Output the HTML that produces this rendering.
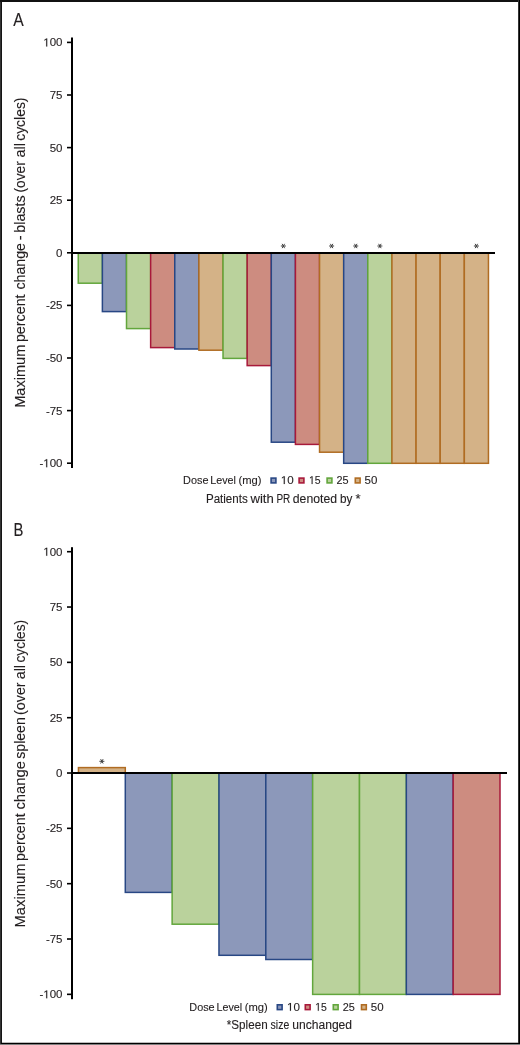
<!DOCTYPE html>
<html><head><meta charset="utf-8"><title>Figure</title>
<style>html,body{margin:0;padding:0;background:#fff;width:520px;height:1045px;overflow:hidden}
svg{display:block;will-change:transform}
svg text{font-family:"Liberation Sans", sans-serif;stroke:#231f20;stroke-width:0.12px}</style></head>
<body>
<svg width="520" height="1045" viewBox="0 0 520 1045">
<rect x="0" y="0" width="520" height="1045" fill="#fff"/>
<text x="13.17" y="25.80" font-size="17.6" text-anchor="start" fill="#231f20" textLength="10.46" lengthAdjust="spacingAndGlyphs">A</text>
<rect x="71" y="37.5" width="2" height="430.5" fill="#000"/>
<rect x="67" y="41.60" width="4" height="1.6" fill="#000"/>
<polygon points="46.20,46.40 46.20,39.45 44.42,40.73 44.42,39.77 46.29,38.49 47.22,38.49 47.22,46.40" fill="#231f20" stroke="#231f20" stroke-width="0.12"/>
<text x="62.50" y="46.40" font-size="11.5" text-anchor="end" fill="#231f20"> 00</text>
<rect x="67" y="94.20" width="4" height="1.6" fill="#000"/>
<text x="62.50" y="99.00" font-size="11.5" text-anchor="end" fill="#231f20">75</text>
<rect x="67" y="146.80" width="4" height="1.6" fill="#000"/>
<text x="62.50" y="151.60" font-size="11.5" text-anchor="end" fill="#231f20">50</text>
<rect x="67" y="199.40" width="4" height="1.6" fill="#000"/>
<text x="62.50" y="204.20" font-size="11.5" text-anchor="end" fill="#231f20">25</text>
<rect x="67" y="252.00" width="4" height="1.6" fill="#000"/>
<text x="62.50" y="256.80" font-size="11.5" text-anchor="end" fill="#231f20">0</text>
<rect x="67" y="304.60" width="4" height="1.6" fill="#000"/>
<text x="62.50" y="309.40" font-size="11.5" text-anchor="end" fill="#231f20">-25</text>
<rect x="67" y="357.20" width="4" height="1.6" fill="#000"/>
<text x="62.50" y="362.00" font-size="11.5" text-anchor="end" fill="#231f20">-50</text>
<rect x="67" y="409.80" width="4" height="1.6" fill="#000"/>
<text x="62.50" y="414.60" font-size="11.5" text-anchor="end" fill="#231f20">-75</text>
<rect x="67" y="462.40" width="4" height="1.6" fill="#000"/>
<polygon points="46.20,467.20 46.20,460.25 44.42,461.53 44.42,460.57 46.29,459.29 47.22,459.29 47.22,467.20" fill="#231f20" stroke="#231f20" stroke-width="0.12"/>
<text x="62.50" y="467.20" font-size="11.5" text-anchor="end" fill="#231f20">- 00</text>
<rect x="78.25" y="253.00" width="24.13" height="30.20" fill="#bad29c" stroke="#62a63c" stroke-width="1.5"/>
<rect x="102.38" y="253.00" width="24.13" height="58.60" fill="#8c98ba" stroke="#284784" stroke-width="1.5"/>
<rect x="126.51" y="253.00" width="24.13" height="75.60" fill="#bad29c" stroke="#62a63c" stroke-width="1.5"/>
<rect x="150.64" y="253.00" width="24.13" height="94.60" fill="#cd8c80" stroke="#a8193a" stroke-width="1.5"/>
<rect x="174.77" y="253.00" width="24.13" height="96.00" fill="#8c98ba" stroke="#284784" stroke-width="1.5"/>
<rect x="198.90" y="253.00" width="24.13" height="97.20" fill="#d4b287" stroke="#b06c22" stroke-width="1.5"/>
<rect x="223.03" y="253.00" width="24.13" height="105.40" fill="#bad29c" stroke="#62a63c" stroke-width="1.5"/>
<rect x="247.16" y="253.00" width="24.13" height="112.60" fill="#cd8c80" stroke="#a8193a" stroke-width="1.5"/>
<rect x="271.29" y="253.00" width="24.13" height="189.20" fill="#8c98ba" stroke="#284784" stroke-width="1.5"/>
<rect x="295.42" y="253.00" width="24.13" height="191.40" fill="#cd8c80" stroke="#a8193a" stroke-width="1.5"/>
<rect x="319.55" y="253.00" width="24.13" height="199.20" fill="#d4b287" stroke="#b06c22" stroke-width="1.5"/>
<rect x="343.68" y="253.00" width="24.13" height="210.30" fill="#8c98ba" stroke="#284784" stroke-width="1.5"/>
<rect x="367.81" y="253.00" width="24.13" height="210.30" fill="#bad29c" stroke="#62a63c" stroke-width="1.5"/>
<rect x="391.94" y="253.00" width="24.13" height="210.30" fill="#d4b287" stroke="#b06c22" stroke-width="1.5"/>
<rect x="416.07" y="253.00" width="24.13" height="210.30" fill="#d4b287" stroke="#b06c22" stroke-width="1.5"/>
<rect x="440.20" y="253.00" width="24.13" height="210.30" fill="#d4b287" stroke="#b06c22" stroke-width="1.5"/>
<rect x="464.33" y="253.00" width="24.13" height="210.30" fill="#d4b287" stroke="#b06c22" stroke-width="1.5"/>
<rect x="71" y="252.00" width="424" height="2" fill="#000"/>
<line x1="280.86" y1="246.00" x2="285.86" y2="246.00" stroke="#3a3a3a" stroke-width="0.95"/>
<line x1="282.11" y1="243.83" x2="284.61" y2="248.17" stroke="#3a3a3a" stroke-width="0.95"/>
<line x1="284.61" y1="243.83" x2="282.11" y2="248.17" stroke="#3a3a3a" stroke-width="0.95"/>
<line x1="329.12" y1="246.00" x2="334.12" y2="246.00" stroke="#3a3a3a" stroke-width="0.95"/>
<line x1="330.37" y1="243.83" x2="332.87" y2="248.17" stroke="#3a3a3a" stroke-width="0.95"/>
<line x1="332.87" y1="243.83" x2="330.37" y2="248.17" stroke="#3a3a3a" stroke-width="0.95"/>
<line x1="353.25" y1="246.00" x2="358.25" y2="246.00" stroke="#3a3a3a" stroke-width="0.95"/>
<line x1="354.50" y1="243.83" x2="357.00" y2="248.17" stroke="#3a3a3a" stroke-width="0.95"/>
<line x1="357.00" y1="243.83" x2="354.50" y2="248.17" stroke="#3a3a3a" stroke-width="0.95"/>
<line x1="377.38" y1="246.00" x2="382.38" y2="246.00" stroke="#3a3a3a" stroke-width="0.95"/>
<line x1="378.62" y1="243.83" x2="381.12" y2="248.17" stroke="#3a3a3a" stroke-width="0.95"/>
<line x1="381.12" y1="243.83" x2="378.62" y2="248.17" stroke="#3a3a3a" stroke-width="0.95"/>
<line x1="473.89" y1="246.00" x2="478.89" y2="246.00" stroke="#3a3a3a" stroke-width="0.95"/>
<line x1="475.14" y1="243.83" x2="477.64" y2="248.17" stroke="#3a3a3a" stroke-width="0.95"/>
<line x1="477.64" y1="243.83" x2="475.14" y2="248.17" stroke="#3a3a3a" stroke-width="0.95"/>
<text transform="translate(25,407.79) rotate(-90)" x="0" y="0" font-size="15" fill="#231f20" stroke="none" textLength="63.05" lengthAdjust="spacingAndGlyphs">Maximum</text>
<text transform="translate(25,342.12) rotate(-90)" x="0" y="0" font-size="15" fill="#231f20" stroke="none" textLength="47.73" lengthAdjust="spacingAndGlyphs">percent</text>
<text transform="translate(25,289.50) rotate(-90)" x="0" y="0" font-size="15" fill="#231f20" stroke="none" textLength="46.43" lengthAdjust="spacingAndGlyphs">change</text>
<text transform="translate(25,240.14) rotate(-90)" x="0" y="0" font-size="15" fill="#231f20" stroke="none" textLength="4.77" lengthAdjust="spacingAndGlyphs">-</text>
<text transform="translate(25,232.72) rotate(-90)" x="0" y="0" font-size="15" fill="#231f20" stroke="none" textLength="37.34" lengthAdjust="spacingAndGlyphs">blasts</text>
<text transform="translate(25,192.55) rotate(-90)" x="0" y="0" font-size="15" fill="#231f20" stroke="none" textLength="31.28" lengthAdjust="spacingAndGlyphs">(over</text>
<text transform="translate(25,157.41) rotate(-90)" x="0" y="0" font-size="15" fill="#231f20" stroke="none" textLength="14.37" lengthAdjust="spacingAndGlyphs">all</text>
<text transform="translate(25,140.79) rotate(-90)" x="0" y="0" font-size="15" fill="#231f20" stroke="none" textLength="43.25" lengthAdjust="spacingAndGlyphs">cycles)</text>
<text x="183.11" y="484.10" font-size="11.5" text-anchor="start" fill="#231f20" textLength="25.37" lengthAdjust="spacingAndGlyphs">Dose</text>
<text x="210.32" y="484.10" font-size="11.5" text-anchor="start" fill="#231f20" textLength="25.59" lengthAdjust="spacingAndGlyphs">Level</text>
<text x="238.51" y="484.10" font-size="11.5" text-anchor="start" fill="#231f20" textLength="22.99" lengthAdjust="spacingAndGlyphs">(mg)</text>
<rect x="271.10" y="478.10" width="4.80" height="4.80" fill="#8c98ba" stroke="#284784" stroke-width="1.6"/>
<polygon points="283.74,484.10 283.74,477.27 281.93,478.53 281.93,477.59 283.82,476.33 284.77,476.33 284.77,484.10" fill="#231f20" stroke="#231f20" stroke-width="0.12"/>
<text x="280.81" y="484.10" font-size="11.3" text-anchor="start" fill="#231f20" textLength="12.94" lengthAdjust="spacingAndGlyphs"> 0</text>
<rect x="299.10" y="478.10" width="4.80" height="4.80" fill="#cd8c80" stroke="#a8193a" stroke-width="1.6"/>
<polygon points="311.63,484.10 311.63,477.27 310.01,478.53 310.01,477.59 311.71,476.33 312.56,476.33 312.56,484.10" fill="#231f20" stroke="#231f20" stroke-width="0.12"/>
<text x="309.00" y="484.10" font-size="11.3" text-anchor="start" fill="#231f20" textLength="11.64" lengthAdjust="spacingAndGlyphs"> 5</text>
<rect x="327.10" y="478.10" width="4.80" height="4.80" fill="#bad29c" stroke="#62a63c" stroke-width="1.6"/>
<text x="336.55" y="484.10" font-size="11.3" text-anchor="start" fill="#231f20" textLength="12.10" lengthAdjust="spacingAndGlyphs">25</text>
<rect x="355.30" y="478.10" width="4.80" height="4.80" fill="#d4b287" stroke="#b06c22" stroke-width="1.6"/>
<text x="364.64" y="484.10" font-size="11.3" text-anchor="start" fill="#231f20" textLength="12.81" lengthAdjust="spacingAndGlyphs">50</text>
<text x="205.95" y="502.60" font-size="12.3" text-anchor="start" fill="#231f20" textLength="41.77" lengthAdjust="spacingAndGlyphs">Patients</text>
<text x="250.42" y="502.60" font-size="12.3" text-anchor="start" fill="#231f20" textLength="23.33" lengthAdjust="spacingAndGlyphs">with</text>
<text x="276.38" y="502.60" font-size="12.3" text-anchor="start" fill="#231f20" textLength="13.88" lengthAdjust="spacingAndGlyphs">PR</text>
<text x="292.79" y="502.60" font-size="12.3" text-anchor="start" fill="#231f20" textLength="44.20" lengthAdjust="spacingAndGlyphs">denoted</text>
<text x="340.04" y="502.60" font-size="12.3" text-anchor="start" fill="#231f20" textLength="12.38" lengthAdjust="spacingAndGlyphs">by</text>
<text x="355.59" y="502.60" font-size="12.3" text-anchor="start" fill="#231f20" textLength="5.12" lengthAdjust="spacingAndGlyphs">*</text>
<text x="13.58" y="535.80" font-size="17.6" text-anchor="start" fill="#231f20" textLength="9.90" lengthAdjust="spacingAndGlyphs">B</text>
<rect x="71" y="547.2" width="2" height="452.0" fill="#000"/>
<rect x="67" y="550.90" width="4" height="1.6" fill="#000"/>
<polygon points="46.20,555.70 46.20,548.75 44.42,550.03 44.42,549.07 46.29,547.79 47.22,547.79 47.22,555.70" fill="#231f20" stroke="#231f20" stroke-width="0.12"/>
<text x="62.50" y="555.70" font-size="11.5" text-anchor="end" fill="#231f20"> 00</text>
<rect x="67" y="606.23" width="4" height="1.6" fill="#000"/>
<text x="62.50" y="611.03" font-size="11.5" text-anchor="end" fill="#231f20">75</text>
<rect x="67" y="661.56" width="4" height="1.6" fill="#000"/>
<text x="62.50" y="666.36" font-size="11.5" text-anchor="end" fill="#231f20">50</text>
<rect x="67" y="716.89" width="4" height="1.6" fill="#000"/>
<text x="62.50" y="721.69" font-size="11.5" text-anchor="end" fill="#231f20">25</text>
<rect x="67" y="772.22" width="4" height="1.6" fill="#000"/>
<text x="62.50" y="777.02" font-size="11.5" text-anchor="end" fill="#231f20">0</text>
<rect x="67" y="827.55" width="4" height="1.6" fill="#000"/>
<text x="62.50" y="832.35" font-size="11.5" text-anchor="end" fill="#231f20">-25</text>
<rect x="67" y="882.88" width="4" height="1.6" fill="#000"/>
<text x="62.50" y="887.68" font-size="11.5" text-anchor="end" fill="#231f20">-50</text>
<rect x="67" y="938.21" width="4" height="1.6" fill="#000"/>
<text x="62.50" y="943.01" font-size="11.5" text-anchor="end" fill="#231f20">-75</text>
<rect x="67" y="993.54" width="4" height="1.6" fill="#000"/>
<polygon points="46.20,998.34 46.20,991.39 44.42,992.67 44.42,991.71 46.29,990.43 47.22,990.43 47.22,998.34" fill="#231f20" stroke="#231f20" stroke-width="0.12"/>
<text x="62.50" y="998.34" font-size="11.5" text-anchor="end" fill="#231f20">- 00</text>
<rect x="78.45" y="767.60" width="46.84" height="5.40" fill="#d4b287" stroke="#b06c22" stroke-width="1.5"/>
<rect x="125.29" y="773.00" width="46.84" height="119.40" fill="#8c98ba" stroke="#284784" stroke-width="1.5"/>
<rect x="172.13" y="773.00" width="46.84" height="151.20" fill="#bad29c" stroke="#62a63c" stroke-width="1.5"/>
<rect x="218.97" y="773.00" width="46.84" height="182.30" fill="#8c98ba" stroke="#284784" stroke-width="1.5"/>
<rect x="265.81" y="773.00" width="46.84" height="186.50" fill="#8c98ba" stroke="#284784" stroke-width="1.5"/>
<rect x="312.65" y="773.00" width="46.84" height="221.40" fill="#bad29c" stroke="#62a63c" stroke-width="1.5"/>
<rect x="359.49" y="773.00" width="46.84" height="221.40" fill="#bad29c" stroke="#62a63c" stroke-width="1.5"/>
<rect x="406.33" y="773.00" width="46.84" height="221.40" fill="#8c98ba" stroke="#284784" stroke-width="1.5"/>
<rect x="453.17" y="773.00" width="46.84" height="221.40" fill="#cd8c80" stroke="#a8193a" stroke-width="1.5"/>
<rect x="71" y="772.00" width="436" height="2" fill="#000"/>
<line x1="99.37" y1="761.30" x2="104.37" y2="761.30" stroke="#3a3a3a" stroke-width="0.95"/>
<line x1="100.62" y1="759.13" x2="103.12" y2="763.47" stroke="#3a3a3a" stroke-width="0.95"/>
<line x1="103.12" y1="759.13" x2="100.62" y2="763.47" stroke="#3a3a3a" stroke-width="0.95"/>
<text transform="translate(25,927.41) rotate(-90)" x="0" y="0" font-size="15" fill="#231f20" stroke="none" textLength="63.88" lengthAdjust="spacingAndGlyphs">Maximum</text>
<text transform="translate(25,860.92) rotate(-90)" x="0" y="0" font-size="15" fill="#231f20" stroke="none" textLength="47.62" lengthAdjust="spacingAndGlyphs">percent</text>
<text transform="translate(25,809.53) rotate(-90)" x="0" y="0" font-size="15" fill="#231f20" stroke="none" textLength="48.38" lengthAdjust="spacingAndGlyphs">change</text>
<text transform="translate(25,758.69) rotate(-90)" x="0" y="0" font-size="15" fill="#231f20" stroke="none" textLength="41.40" lengthAdjust="spacingAndGlyphs">spleen</text>
<text transform="translate(25,714.89) rotate(-90)" x="0" y="0" font-size="15" fill="#231f20" stroke="none" textLength="32.52" lengthAdjust="spacingAndGlyphs">(over</text>
<text transform="translate(25,679.31) rotate(-90)" x="0" y="0" font-size="15" fill="#231f20" stroke="none" textLength="14.37" lengthAdjust="spacingAndGlyphs">all</text>
<text transform="translate(25,662.58) rotate(-90)" x="0" y="0" font-size="15" fill="#231f20" stroke="none" textLength="42.74" lengthAdjust="spacingAndGlyphs">cycles)</text>
<text x="189.31" y="1010.80" font-size="11.5" text-anchor="start" fill="#231f20" textLength="25.37" lengthAdjust="spacingAndGlyphs">Dose</text>
<text x="216.52" y="1010.80" font-size="11.5" text-anchor="start" fill="#231f20" textLength="25.59" lengthAdjust="spacingAndGlyphs">Level</text>
<text x="244.71" y="1010.80" font-size="11.5" text-anchor="start" fill="#231f20" textLength="22.99" lengthAdjust="spacingAndGlyphs">(mg)</text>
<rect x="277.30" y="1004.80" width="4.80" height="4.80" fill="#8c98ba" stroke="#284784" stroke-width="1.6"/>
<polygon points="289.94,1010.80 289.94,1003.97 288.13,1005.23 288.13,1004.29 290.02,1003.03 290.97,1003.03 290.97,1010.80" fill="#231f20" stroke="#231f20" stroke-width="0.12"/>
<text x="287.01" y="1010.80" font-size="11.3" text-anchor="start" fill="#231f20" textLength="12.94" lengthAdjust="spacingAndGlyphs"> 0</text>
<rect x="305.30" y="1004.80" width="4.80" height="4.80" fill="#cd8c80" stroke="#a8193a" stroke-width="1.6"/>
<polygon points="317.83,1010.80 317.83,1003.97 316.21,1005.23 316.21,1004.29 317.91,1003.03 318.76,1003.03 318.76,1010.80" fill="#231f20" stroke="#231f20" stroke-width="0.12"/>
<text x="315.20" y="1010.80" font-size="11.3" text-anchor="start" fill="#231f20" textLength="11.64" lengthAdjust="spacingAndGlyphs"> 5</text>
<rect x="333.30" y="1004.80" width="4.80" height="4.80" fill="#bad29c" stroke="#62a63c" stroke-width="1.6"/>
<text x="342.75" y="1010.80" font-size="11.3" text-anchor="start" fill="#231f20" textLength="12.10" lengthAdjust="spacingAndGlyphs">25</text>
<rect x="361.50" y="1004.80" width="4.80" height="4.80" fill="#d4b287" stroke="#b06c22" stroke-width="1.6"/>
<text x="370.84" y="1010.80" font-size="11.3" text-anchor="start" fill="#231f20" textLength="12.81" lengthAdjust="spacingAndGlyphs">50</text>
<text x="226.81" y="1028.60" font-size="12.3" text-anchor="start" fill="#231f20" textLength="40.85" lengthAdjust="spacingAndGlyphs">*Spleen</text>
<text x="270.61" y="1028.60" font-size="12.3" text-anchor="start" fill="#231f20" textLength="18.66" lengthAdjust="spacingAndGlyphs">size</text>
<text x="292.21" y="1028.60" font-size="12.3" text-anchor="start" fill="#231f20" textLength="59.87" lengthAdjust="spacingAndGlyphs">unchanged</text>
<rect x="0" y="0" width="1" height="1045" fill="#333"/>
<rect x="1" y="0" width="1" height="1045" fill="#141414"/>
<rect x="0" y="0" width="520" height="2" fill="#111"/>
<rect x="518" y="0" width="1" height="1045" fill="#333"/>
<rect x="519" y="0" width="1" height="1045" fill="#000"/>
<rect x="2" y="1042" width="516" height="1" fill="#bbb"/>
<rect x="1" y="1043" width="519" height="1" fill="#000"/>
<rect x="0" y="1044" width="520" height="1" fill="#808080"/>
</svg>
</body></html>
